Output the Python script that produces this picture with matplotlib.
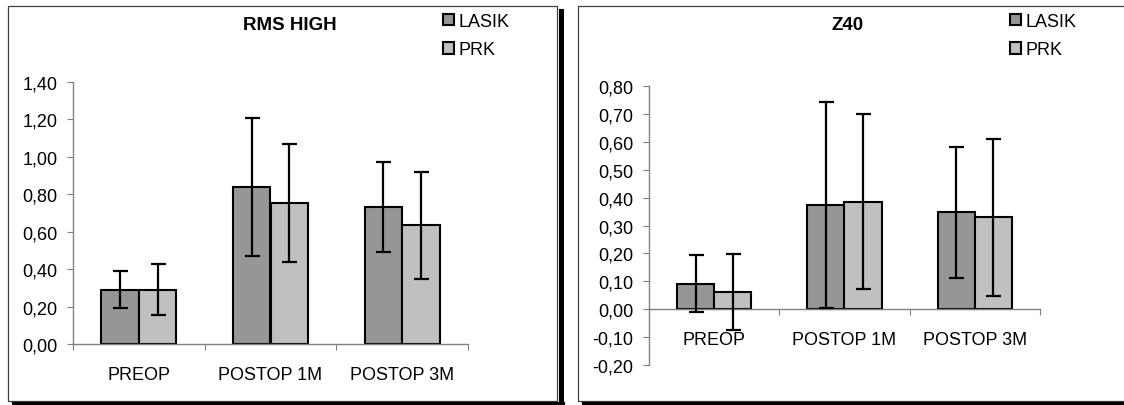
import matplotlib.pyplot as plt
import numpy as np
from matplotlib.patches import Rectangle
from matplotlib.lines import Line2D

plt.rcParams['font.family'] = ['Liberation Sans', 'DejaVu Sans']

# --- Data ---
categories = ['PREOP', 'POSTOP 1M', 'POSTOP 3M']
series = ['LASIK', 'PRK']

rms_lasik = [0.29, 0.84, 0.73]
rms_lasik_err = [0.10, 0.37, 0.24]
rms_prk = [0.29, 0.755, 0.635]
rms_prk_err = [0.135, 0.315, 0.285]

z40_lasik = [0.092, 0.374, 0.347]
z40_lasik_err = [0.102, 0.37, 0.236]
z40_prk = [0.062, 0.386, 0.329]
z40_prk_err = [0.135, 0.315, 0.28]

rms_ticks = [0.0, 0.2, 0.4, 0.6, 0.8, 1.0, 1.2, 1.4]
z40_ticks = [-0.2, -0.1, 0.0, 0.1, 0.2, 0.3, 0.4, 0.5, 0.6, 0.7, 0.8]

COLORS = {'LASIK': '#969696', 'PRK': '#c0c0c0'}

W, H = 1124, 406
fig = plt.figure(figsize=(W / 100, H / 100), dpi=100)


def fx(x):
    return x / W


def fy(y):
    return 1 - y / H


def frame(x0, y0, x1, y1, shadow_right=True):
    fig.add_artist(Rectangle((fx(x0), fy(y1)), fx(x1 - x0), (y1 - y0) / H,
                             transform=fig.transFigure, fill=False,
                             edgecolor='#404040', linewidth=0.9))
    if shadow_right:
        fig.add_artist(Line2D([fx(x1 + 4), fx(x1 + 4)], [fy(y0 + 5), fy(H)],
                              transform=fig.transFigure, color='black', linewidth=3.6))
    fig.add_artist(Line2D([fx(x0 + 6), fx(min(x1 + 6, W))], [fy(y1 + 2.5), fy(y1 + 2.5)],
                          transform=fig.transFigure, color='black', linewidth=3.0))


def panel(rect, title, title_x, lasik, lasik_err, prk, prk_err, ticks, ylim, legend_x):
    ax = fig.add_axes(rect)
    x = np.arange(len(categories))
    w = 0.285
    b1 = ax.bar(x - w / 2, lasik, w, color=COLORS['LASIK'], edgecolor='black',
                linewidth=1.5, label=series[0], zorder=2)
    b2 = ax.bar(x + w / 2, prk, w, color=COLORS['PRK'], edgecolor='black',
                linewidth=1.5, label=series[1], zorder=2)
    ax.errorbar(x - w / 2, lasik, yerr=lasik_err, fmt='none', ecolor='black',
                elinewidth=1.6, capsize=5.4, capthick=1.6, zorder=3)
    ax.errorbar(x + w / 2, prk, yerr=prk_err, fmt='none', ecolor='black',
                elinewidth=1.6, capsize=5.4, capthick=1.6, zorder=3)

    ax.set_xlim(-0.5, len(categories) - 0.5)
    ax.set_ylim(*ylim)
    ax.set_yticks(ticks)
    ax.set_yticklabels([f'{t:.2f}'.replace('.', ',') for t in ticks])

    ax.set_xticks(np.arange(len(categories) + 1) - 0.5)
    ax.set_xticklabels([])
    ax.set_xticks(x, minor=True)
    ax.set_xticklabels(categories, minor=True)
    ax.tick_params(axis='x', which='major', direction='out', length=4, color='#808080')
    ax.tick_params(axis='x', which='minor', length=0, pad=16, labelsize=13)
    ax.tick_params(axis='y', direction='out', length=4, color='#808080', pad=7,
                   labelsize=13)

    for s in ['top', 'right']:
        ax.spines[s].set_visible(False)
    for s in ['left', 'bottom']:
        ax.spines[s].set_color('#808080')
        ax.spines[s].set_linewidth(1.0)
    ax.spines['bottom'].set_position(('data', 0))
    ax.patch.set_visible(False)

    fig.text(fx(title_x), fy(25), title, ha='center', va='center',
             fontsize=13.5, fontweight='bold')
    ax.legend(handles=[b1, b2], loc='upper left', bbox_to_anchor=(fx(legend_x), fy(14)),
              bbox_transform=fig.transFigure, borderaxespad=0, borderpad=0,
              handlelength=0.62, handleheight=0.62, handletextpad=0.22,
              labelspacing=0.62, frameon=False, fontsize=13)
    return ax


frame(8, 7, 557, 402)
frame(578, 7, 1130, 402, shadow_right=False)

panel([fx(73), fy(345), (468 - 73) / W, (345 - 83) / H], 'RMS HIGH', 290,
      rms_lasik, rms_lasik_err, rms_prk, rms_prk_err, rms_ticks, (0, 1.4), 443)

panel([fx(649), fy(366), (1040 - 649) / W, (366 - 87) / H], 'Z40', 848,
      z40_lasik, z40_lasik_err, z40_prk, z40_prk_err, z40_ticks, (-0.2, 0.8), 1010)

fig.savefig('out.png', dpi=100)
